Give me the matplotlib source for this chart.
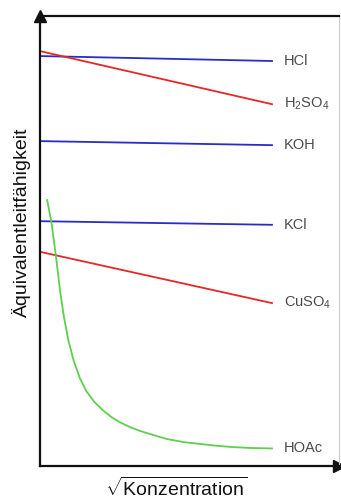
import matplotlib
matplotlib.use("Agg")
from matplotlib import pyplot as plt

plt.rcParams['font.family'] = ['Liberation Sans', 'DejaVu Sans']
plt.rcParams['mathtext.fontset'] = 'custom'
plt.rcParams['mathtext.rm'] = 'Liberation Sans'
plt.rcParams['mathtext.it'] = 'Liberation Sans:italic'

# x = sqrt(concentration), arbitrary units; y = equivalent conductivity
x_line = [0.0, 1.0]
hcl = [91.1, 90.0]
h2so4 = [92.2, 80.4]
koh = [72.2, 71.3]
kcl = [54.4, 53.6]
cuso4 = [47.6, 36.2]

x_hoac = [0.031, 0.050, 0.069, 0.086, 0.103, 0.122, 0.144, 0.172, 0.200, 0.235, 0.273,
          0.31, 0.345, 0.39, 0.431, 0.50, 0.547, 0.62, 0.69, 0.76, 0.832, 0.91, 1.0]
hoac = [59.1, 53.9, 46.5, 39.1, 33.2, 28.0, 23.6, 19.5, 16.6, 14.2, 12.3,
        10.8, 9.7, 8.6, 7.8, 6.7, 6.0, 5.3, 4.9, 4.5, 4.2, 4.0, 3.9]

names = ['HCl', r'$\mathregular{H_2SO_4}$', 'KOH', 'KCl', r'$\mathregular{CuSO_4}$', 'HOAc']

blue = '#2b2bc8'
red = '#e42828'
green = '#5cd04c'

fig = plt.figure(figsize=(3.41, 5.0), dpi=100)
ax = fig.add_axes([40/341, 34/500, 299/341, 450/500])

ax.plot(x_line, hcl, color=blue, lw=1.3)
ax.plot(x_line, h2so4, color=red, lw=1.3)
ax.plot(x_line, koh, color=blue, lw=1.3)
ax.plot(x_line, kcl, color=blue, lw=1.3)
ax.plot(x_line, cuso4, color=red, lw=1.3)
ax.plot(x_hoac, hoac, color=green, lw=1.3)

ends = [hcl[-1], h2so4[-1], koh[-1], kcl[-1], cuso4[-1], hoac[-1]]
for name, yv in zip(names, ends):
    ax.text(1.05, yv, name, fontsize=10.5, color='#4a4a4a', va='center', ha='left')

ax.set_xlim(0, 299/232)
ax.set_ylim(0, 100)
ax.set_xticks([])
ax.set_yticks([])

for s in ['left', 'bottom', 'top']:
    ax.spines[s].set_linewidth(1.6)
    ax.spines[s].set_color('#111111')
ax.spines['right'].set_color('#cccccc')
ax.spines['right'].set_linewidth(0.8)

# arrow heads
ax.plot(0, 1, marker='^', ms=8, color='#111111', transform=ax.transAxes, clip_on=False)
ax.plot(1, 0, marker='>', ms=8, color='#111111', transform=ax.transAxes, clip_on=False)

fig.text(21/341, 1 - 222/500, 'Äquivalentleitfähigkeit', rotation=90,
         fontsize=14, ha='center', va='center', color='#111111')
fig.text(176/341, 1 - 488/500, r'$\sqrt{\mathregular{Konzentration}}$',
         fontsize=14, ha='center', va='center', color='#111111')

fig.savefig('out.png', dpi=100)
